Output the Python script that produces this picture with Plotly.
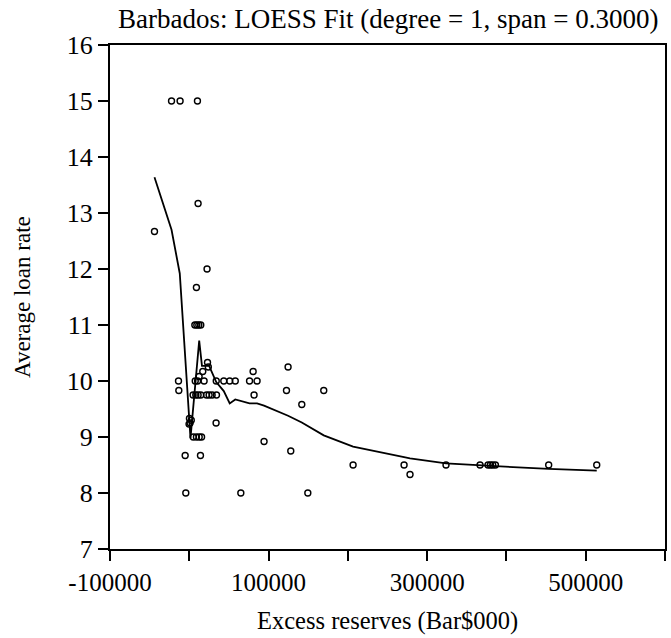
import plotly.graph_objects as go

# Observed data points
excess_reserves = [
    -43900, -22400, -11600, 10300, 11100, 22400, 9000,
    7000, 9500, 12000, 14500,
    23000, 24000, 17000, 12400,
    -13600, 7500, 10500, 18700, 34000, 43500, 51000, 58000, 76000, 85500,
    -13200, 122600, 169600,
    4800, 8200, 11100, 14500, 21700, 25000, 28800, 34300, 81700,
    200, 1000, -300, 2500,
    5000, 9000, 12500, 15500,
    33800,
    -5200, 14100,
    -4400, 65000, 149500,
    94300, 128000, 124600, 141900, 80500,
    206600, 270900, 323800, 366700, 376800, 379800, 382700, 386100, 453300, 513900,
    278400,
]
loan_rate = [
    12.67, 15.0, 15.0, 15.0, 13.17, 12.0, 11.67,
    11.0, 11.0, 11.0, 11.0,
    10.33, 10.25, 10.17, 10.08,
    10.0, 10.0, 10.0, 10.0, 10.0, 10.0, 10.0, 10.0, 10.0, 10.0,
    9.83, 9.83, 9.83,
    9.75, 9.75, 9.75, 9.75, 9.75, 9.75, 9.75, 9.75, 9.75,
    9.33, 9.25, 9.23, 9.3,
    9.0, 9.0, 9.0, 9.0,
    9.25,
    8.67, 8.67,
    8.0, 8.0, 8.0,
    8.92, 8.75, 10.25, 9.58, 10.17,
    8.5, 8.5, 8.5, 8.5, 8.5, 8.5, 8.5, 8.5, 8.5, 8.5,
    8.33,
]

# LOESS fitted curve
loess_x = [
    -43900, -22400, -12000, 1500, 12500, 16000, 25000, 34000, 43500, 51000,
    58000, 65000, 76000, 85500, 94300, 124600, 141900, 169600, 206600,
    270900, 278400, 323800, 366700, 386100, 453300, 513900,
]
loess_y = [
    13.64, 12.70, 11.92, 8.98, 10.72, 10.27, 10.27, 9.98, 9.82, 9.60,
    9.67, 9.64, 9.60, 9.60, 9.56, 9.38, 9.26, 9.03, 8.83,
    8.64, 8.62, 8.53, 8.49, 8.48, 8.43, 8.40,
]

x_tickvals = [-100000, 0, 100000, 200000, 300000, 400000, 500000, 600000]
x_ticktext = ["-100000", "", "100000", "", "300000", "", "500000", ""]
y_tickvals = [7, 8, 9, 10, 11, 12, 13, 14, 15, 16]

FONT = "Liberation Serif"

fig = go.Figure()
fig.add_trace(go.Scatter(
    x=loess_x, y=loess_y, mode="lines",
    line=dict(color="black", width=1.8),
    showlegend=False, hoverinfo="skip",
))
fig.add_trace(go.Scatter(
    x=excess_reserves, y=loan_rate, mode="markers",
    marker=dict(symbol="circle-open", size=6, color="black", line=dict(width=1.4, color="black")),
    showlegend=False,
))

fig.update_layout(
    width=671, height=638,
    margin=dict(l=110, r=4, t=45, b=89),
    paper_bgcolor="white", plot_bgcolor="white",
    font=dict(family=FONT, color="black"),
    xaxis=dict(
        range=[-100000, 600000], tickvals=x_tickvals, ticktext=x_ticktext,
        ticks="outside", ticklen=10, tickwidth=1.5, tickcolor="black",
        showline=True, linecolor="black", linewidth=2, mirror=True,
        showgrid=False, zeroline=False,
        tickfont=dict(family=FONT, size=25, color="black"),
    ),
    yaxis=dict(
        range=[7, 16], tickvals=y_tickvals,
        ticks="outside", ticklen=10, tickwidth=1.5, tickcolor="black",
        showline=True, linecolor="black", linewidth=2, mirror=True,
        showgrid=False, zeroline=False,
        tickfont=dict(family=FONT, size=26, color="black"),
    ),
    annotations=[
        dict(text="Barbados: LOESS Fit (degree = 1, span = 0.3000)",
             x=0.5, y=1, xref="paper", yref="paper", xanchor="center", yanchor="bottom",
             yshift=9, showarrow=False, font=dict(family=FONT, size=27, color="black")),
        dict(text="Excess reserves (Bar$000)",
             x=0.5, y=0, xref="paper", yref="paper", xanchor="center", yanchor="middle",
             yshift=-72, showarrow=False, font=dict(family=FONT, size=24.5, color="black")),
        dict(text="Average loan rate", textangle=-90,
             x=0, y=0.5, xref="paper", yref="paper", xanchor="center", yanchor="middle",
             xshift=-88, showarrow=False, font=dict(family=FONT, size=23, color="black")),
    ],
)

fig.write_html("out.html", config={"displayModeBar": False},
               post_script="document.body.style.margin='0';document.body.style.overflow='hidden';")
